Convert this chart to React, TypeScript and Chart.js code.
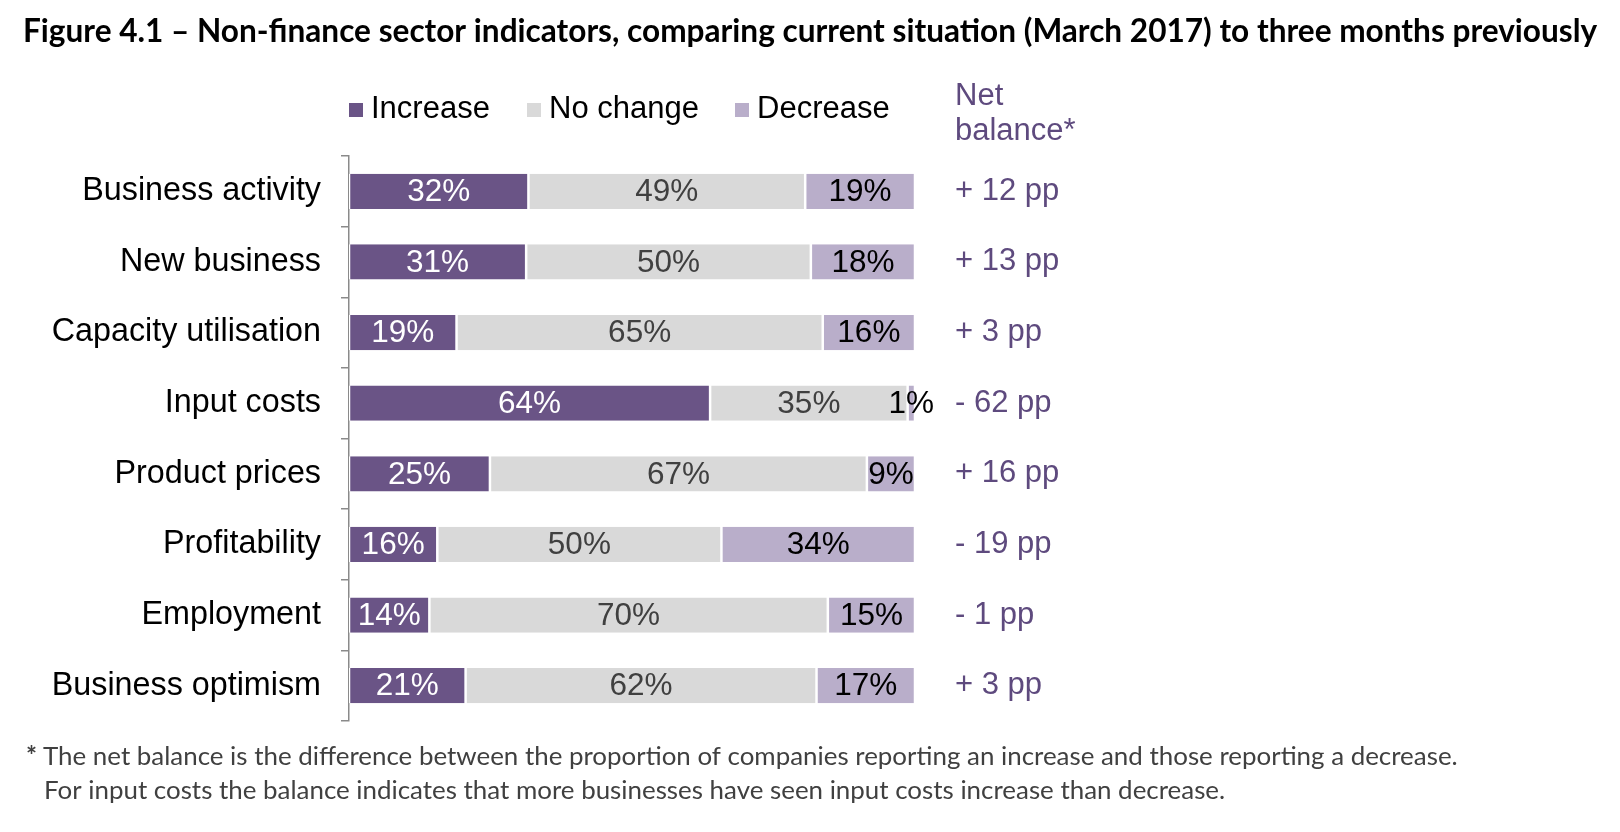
import React, { useEffect, useRef } from 'react';
import { Chart, registerables } from 'chart.js';

Chart.register(...registerables);

const titleText = 'Figure 4.1 \u2013 Non-finance sector indicators, comparing current situation (March 2017) to three months previously';
const categories = ['Business activity', 'New business', 'Capacity utilisation', 'Input costs', 'Product prices', 'Profitability', 'Employment', 'Business optimism'];
const increase = [31.7, 31.3, 19.0, 63.8, 24.9, 15.6, 14.2, 20.6];
const noChange = [48.9, 50.3, 64.7, 34.9, 66.6, 50.2, 70.4, 62.0];
const decrease = [19.4, 18.4, 16.3, 1.3, 8.5, 34.2, 15.4, 17.4];
const netBalance = [12, 13, 3, -62, 16, -19, -1, 3];
const seriesNames = ['Increase', 'No change', 'Decrease'];
const netHeader = ['Net', 'balance*'];
const footnoteLines = [
  'The net balance is the difference between the proportion of companies reporting an increase and those reporting a decrease.',
  'For input costs the balance indicates that more businesses have seen input costs increase than decrease.',
];

const PURPLE = '#6a5486';
const GREY = '#d9d9d9';
const LILAC = '#b9aeca';
const NET_COLOR = '#5e4a7e';
const AXIS = '#8a8a8a';
const SANS = '"Liberation Sans", Arial, sans-serif';
const CAL = 'Lato, "Open Sans", sans-serif';

const labelColors = ['#ffffff', '#404040', '#000000'];

function fitSize(ctx: CanvasRenderingContext2D, text: string, weight: string, family: string, target: number) {
  ctx.font = `${weight} 40px ${family}`;
  const w = ctx.measureText(text).width;
  return (40 * target) / w;
}

const valueLabels = {
  id: 'valueLabels',
  afterDatasetsDraw(chart: any) {
    const ctx = chart.ctx;
    ctx.save();
    ctx.font = `31.5px ${SANS}`;
    ctx.textAlign = 'center';
    ctx.textBaseline = 'middle';
    chart.data.datasets.forEach((ds: any, di: number) => {
      const meta = chart.getDatasetMeta(di);
      meta.data.forEach((el: any, i: number) => {
        const v = ds.data[i];
        const cx = (el.x + el.base) / 2;
        ctx.fillStyle = labelColors[di];
        ctx.fillText(`${Math.round(v)}%`, cx, el.y + 1);
      });
    });
    ctx.restore();
  },
};

const decorations = {
  id: 'decorations',
  afterDraw(chart: any) {
    const ctx = chart.ctx;
    const yScale = chart.scales.y;
    ctx.save();
    // Title
    const ts = fitSize(ctx, titleText, 'bold', CAL, 1575);
    ctx.font = `bold ${ts}px ${CAL}`;
    ctx.fillStyle = '#000';
    ctx.textAlign = 'left';
    ctx.textBaseline = 'middle';
    ctx.fillText(titleText, 23, 32);

    // Legend
    const legendX = [349, 527, 735];
    ctx.font = `31px ${SANS}`;
    chart.data.datasets.forEach((ds: any, di: number) => {
      ctx.fillStyle = ds.backgroundColor;
      ctx.fillRect(legendX[di], 103, 14, 14);
      ctx.fillStyle = '#000';
      ctx.fillText(seriesNames[di], legendX[di] + 22, 109);
    });

    // Net balance header
    ctx.fillStyle = NET_COLOR;
    ctx.fillText(netHeader[0], 955, 96);
    ctx.fillText(netHeader[1], 955, 131);

    // Net balance values
    netBalance.forEach((v, i) => {
      const y = yScale.getPixelForValue(i);
      const txt = `${v >= 0 ? '+' : '-'} ${Math.abs(v)} pp`;
      ctx.fillText(txt, 955, y);
    });

    // Footnote
    const fs = fitSize(ctx, footnoteLines[0], 'normal', CAL, 1415);
    ctx.fillStyle = '#404040';
    ctx.font = `bold ${fs}px ${CAL}`;
    ctx.fillText('*', 26, 757);
    ctx.font = `normal ${fs}px ${CAL}`;
    ctx.fillText(footnoteLines[0], 43, 757);
    ctx.fillText(footnoteLines[1], 44, 791);
    ctx.restore();
  },
};

export default function App() {
  const ref = useRef<HTMLCanvasElement | null>(null);
  useEffect(() => {
    document.body.style.margin = '0';
    const canvas = ref.current;
    if (!canvas) return;
    const seg = { left: 1.25, right: 1.25, top: 0, bottom: 0 };
    const chart = new Chart(canvas, {
      type: 'bar',
      data: {
        labels: categories,
        datasets: [
          { label: seriesNames[0], data: increase, backgroundColor: PURPLE, borderColor: '#ffffff', borderWidth: seg, borderSkipped: false },
          { label: seriesNames[1], data: noChange, backgroundColor: GREY, borderColor: '#ffffff', borderWidth: seg, borderSkipped: false },
          { label: seriesNames[2], data: decrease, backgroundColor: LILAC, borderColor: '#ffffff', borderWidth: seg, borderSkipped: false },
        ] as any,
      },
      options: {
        indexAxis: 'y',
        responsive: false,
        animation: false,
        layout: { padding: { left: 0, right: 1620 - 915, top: 156, bottom: 832 - 721 } },
        datasets: { bar: { barPercentage: 0.5, categoryPercentage: 1 } },
        scales: {
          x: { stacked: true, min: 0, max: 100, display: false },
          y: {
            stacked: true,
            offset: true,
            grid: { offset: true, drawOnChartArea: false, drawTicks: true, tickLength: 8, color: AXIS, lineWidth: 1.5 },
            border: { display: true, color: AXIS, width: 1.5 },
            ticks: { color: '#000', font: { family: SANS, size: 32.3 }, padding: 20 },
            afterFit: (s: any) => { s.width = 349; },
          },
        },
        plugins: { legend: { display: false }, tooltip: { enabled: false } },
      } as any,
      plugins: [valueLabels, decorations],
    });
    return () => chart.destroy();
  }, []);
  return (
    <div style={{ width: 1620, height: 832, background: '#fff' }}>
      <canvas ref={ref} width={1620} height={832} style={{ display: 'block' }} />
    </div>
  );
}
